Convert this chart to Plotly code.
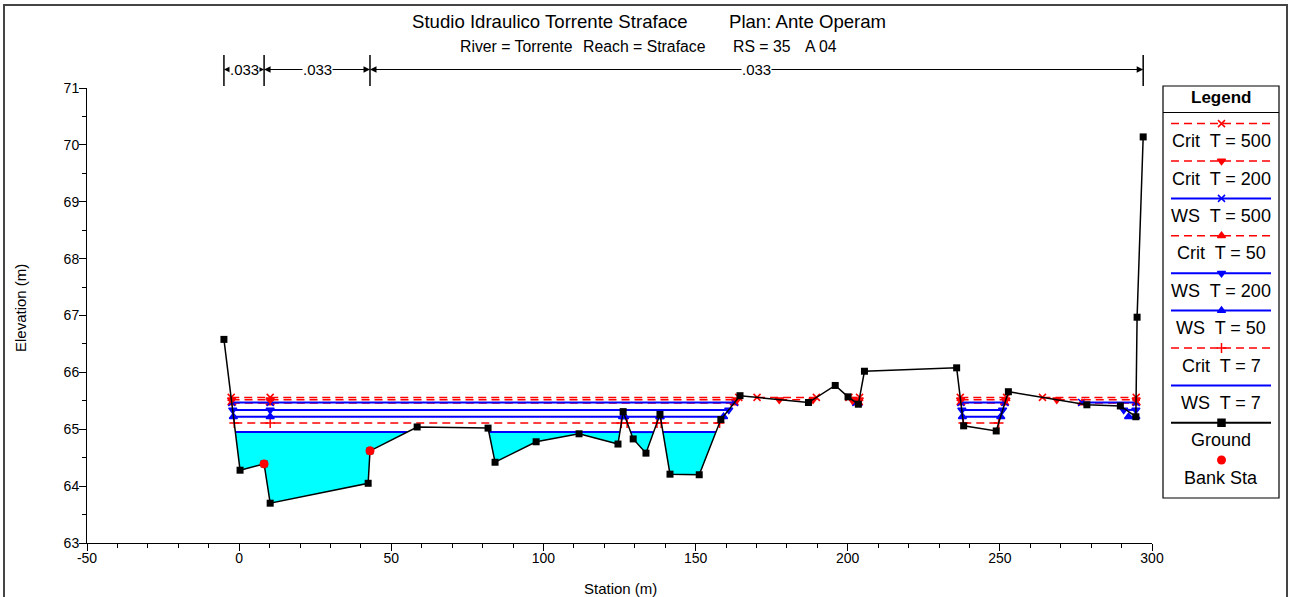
import plotly.graph_objects as go

# ground profile (station, elevation)
ground_x = [-5.0, 0.3, 8.2, 10.2, 42.4, 43.0, 58.5, 81.8, 84.1, 97.6, 111.7, 124.5,
            126.2, 129.5, 133.7, 138.3, 141.6, 151.2, 158.3, 164.6, 187.1, 195.9,
            200.1, 203.5, 205.5, 235.8, 238.1, 248.8, 252.8, 278.6, 289.6, 294.7,
            295.1, 297.1]
ground_y = [66.58, 64.28, 64.39, 63.70, 64.05, 64.62, 65.04, 65.02, 64.42, 64.78,
            64.92, 64.74, 65.31, 64.83, 64.58, 65.26, 64.21, 64.20, 65.17, 65.59,
            65.47, 65.77, 65.57, 65.44, 66.02, 66.08, 65.06, 64.97, 65.66, 65.43,
            65.41, 65.22, 66.97, 70.14]

bank_x = [8.2, 43.0]
bank_y = [64.39, 64.62]

# manning n breaks
n_breaks = [-5.0, 8.2, 43.0, 297.1]
n_values = [".033", ".033", ".033"]

# axis ticks
x_ticks = [-50, 0, 50, 100, 150, 200, 250, 300]
y_ticks = [63, 64, 65, 66, 67, 68, 69, 70, 71]

# water surface / critical elevations and the wet stretches (from the picture)
crit500_el = 65.56
crit500_seg = [(-2.6, 164.2), (170.2, 189.7), (200.4, 203.9), (237.0, 252.2), (264.0, 294.8)]
crit200_el = 65.52
crit200_seg = [(-2.5, 163.6), (177.5, 188.6), (201.4, 203.8), (237.1, 252.0), (268.7, 294.8)]
ws500_el = 65.47
ws500_seg = [(-2.4, 162.8), (202.7, 203.6), (237.2, 251.7), (276.9, 294.8)]
crit50_el = 65.46
crit50_seg = [(-2.4, 162.7), (202.8, 203.6), (237.2, 251.6), (277.0, 294.8)]
ws200_el = 65.34
ws200_seg = [(-2.1, 160.9), (237.5, 250.9), (290.7, 294.7)]
ws50_el = 65.22
ws50_seg = [(-1.9, 126.0), (126.7, 138.2), (138.4, 159.2), (237.7, 250.3), (292.3, 294.7)]
crit7_el = 65.11
crit7_seg = [(-1.6, 125.6), (127.5, 137.3), (138.7, 157.9), (238.0, 249.6)]
ws7_el = 64.95
ws7_seg = [(-1.2, 55.2), (82.1, 125.1), (128.7, 136.2), (139.3, 156.7)]

extra_marker_sta = [10.2]

RED = "#FF0000"
BLUE = "#0000FF"
CYAN = "#00FFFF"
FONT = "Liberation Sans, Arial, sans-serif"

# name, elevation, segments, color, dash, symbol (legend order)
profiles = [
    ("Crit  T = 500", crit500_el, crit500_seg, RED, "8px,5px", "x-thin-open"),
    ("Crit  T = 200", crit200_el, crit200_seg, RED, "8px,5px", "triangle-down"),
    ("WS  T = 500", ws500_el, ws500_seg, BLUE, "solid", "x-thin-open"),
    ("Crit  T = 50", crit50_el, crit50_seg, RED, "8px,5px", "triangle-up"),
    ("WS  T = 200", ws200_el, ws200_seg, BLUE, "solid", "triangle-down"),
    ("WS  T = 50", ws50_el, ws50_seg, BLUE, "solid", "triangle-up"),
    ("Crit  T = 7", crit7_el, crit7_seg, RED, "8px,5px", "cross-thin-open"),
    ("WS  T = 7", ws7_el, ws7_seg, BLUE, "solid", None),
]

W, H = 1289, 597


def px(x):
    return x / W


def py(y):
    return 1 - y / H


def label(x, y, text, size, **kw):
    d = dict(x=px(x), y=py(y), xref="paper", yref="paper", text=text, showarrow=False,
             xanchor="center", yanchor="middle", font=dict(size=size, color="black", family=FONT))
    d.update(kw)
    return d


fig = go.Figure()

# cyan fill below WS T = 7
for x0, x1 in ws7_seg:
    fx = [x0] + [gx for gx in ground_x if x0 < gx < x1] + [x1]
    fy = [ws7_el] + [gy for gx, gy in zip(ground_x, ground_y) if x0 < gx < x1] + [ws7_el]
    fig.add_trace(go.Scatter(x=fx, y=fy, mode="lines", fill="toself", fillcolor=CYAN,
                             line=dict(width=0), hoverinfo="skip", showlegend=False))

# profile lines, drawn from lowest to highest
for name, el, segs, color, dash, symbol in reversed(profiles):
    lx, ly = [], []
    for x0, x1 in segs:
        lx += [x0, x1, None]
        ly += [el, el, None]
    width = 1.5 if color == RED else 2
    fig.add_trace(go.Scatter(x=lx, y=ly, mode="lines", line=dict(color=color, width=width, dash=dash),
                             name=name, showlegend=False))
    if symbol:
        mx = [s for seg in segs for s in seg]
        mx += [s for s in extra_marker_sta if segs[0][0] < s < segs[0][1]]
        fig.add_trace(go.Scatter(x=mx, y=[el] * len(mx), mode="markers",
                                 marker=dict(symbol=symbol, color=color, size=7,
                                             line=dict(color=color, width=1.5)),
                                 showlegend=False))

fig.add_trace(go.Scatter(x=ground_x, y=ground_y, mode="lines+markers", name="Ground",
                         line=dict(color="black", width=1.5),
                         marker=dict(symbol="square", color="black", size=7), showlegend=False))
fig.add_trace(go.Scatter(x=bank_x, y=bank_y, mode="markers", name="Bank Sta",
                         marker=dict(symbol="circle", color=RED, size=9), showlegend=False))

# custom legend on its own axes (pixel-like coordinates)
LX0, LX1, LY0, LY1 = 1163, 1279, 86, 498
lmid = (LX0 + LX1) / 2
leg_items = [p[0] for p in profiles] + ["Ground"]
ann = []
for i, name in enumerate(leg_items):
    ly = 123.6 + i * 37.4
    if name == "Ground":
        color, dash, symbol = "black", "solid", "square"
    else:
        _, _, _, color, dash, symbol = profiles[i]
    width = 1.5 if color == RED else 2
    fig.add_trace(go.Scatter(x=[1171, 1271], y=[ly, ly], mode="lines", xaxis="x2", yaxis="y2",
                             line=dict(color=color, width=width, dash=dash), showlegend=False))
    if symbol:
        fig.add_trace(go.Scatter(x=[lmid + 0.5], y=[ly], mode="markers", xaxis="x2", yaxis="y2",
                                 marker=dict(symbol=symbol, color=color, size=7,
                                             line=dict(color=color, width=1.5)),
                                 showlegend=False))
    ann.append(label(lmid, ly + 17.5, name, 18))
fig.add_trace(go.Scatter(x=[lmid + 0.5], y=[460], mode="markers", xaxis="x2", yaxis="y2",
                         marker=dict(symbol="circle", color=RED, size=9), showlegend=False))
ann.append(label(lmid, 478, "Bank Sta", 18))
ann.append(label(lmid, 97.5, "<b>Legend</b>", 17))

# titles
ann += [
    label(410, 22, "Studio Idraulico Torrente Straface", 18.6, xanchor="left"),
    label(727, 22, "Plan: Ante Operam", 18.6, xanchor="left"),
    label(458, 46, "River = Torrente", 15.8, xanchor="left"),
    label(581, 46, "Reach = Straface", 15.8, xanchor="left"),
    label(731, 46, "RS = 35", 15.8, xanchor="left"),
    label(803, 46, "A 04", 15.8, xanchor="left"),
    label(20, 308, "Elevation (m)", 15, textangle=-90),
    label(620, 588, "Station (m)", 15),
]

# manning n bar above the plot
shapes = []
bar_y = py(69.5)
for b in n_breaks:
    shapes.append(dict(type="line", xref="x", yref="paper", x0=b, x1=b, y0=py(86), y1=py(55),
                       line=dict(color="black", width=1.5)))
for (a, b), nv in zip(zip(n_breaks[:-1], n_breaks[1:]), n_values):
    mid = (a + b) / 2
    for end in (a, b):
        ann.append(dict(x=end, y=bar_y, xref="x", yref="paper", ax=mid, ay=0, axref="x",
                        ayref="pixel", text="", showarrow=True, arrowhead=2, arrowsize=1.3,
                        arrowwidth=1, arrowcolor="black", standoff=0))
    ann.append(dict(x=mid, y=bar_y, xref="x", yref="paper", text=nv, showarrow=False,
                    xanchor="center", yanchor="middle", bgcolor="white", borderpad=0,
                    font=dict(size=15, color="black", family=FONT)))

# legend box and outer frame
shapes += [
    dict(type="rect", xref="paper", yref="paper", x0=px(LX0), x1=px(LX1), y0=py(LY1), y1=py(LY0),
         line=dict(color="black", width=1.2)),
    dict(type="line", xref="paper", yref="paper", x0=px(LX0), x1=px(LX1), y0=py(112.5), y1=py(112.5),
         line=dict(color="black", width=1.2)),
    dict(type="rect", xref="paper", yref="paper", x0=px(4), x1=px(1287), y0=py(605), y1=py(5),
         line=dict(color="#444444", width=2)),
]

fig.update_layout(
    width=W, height=H,
    margin=dict(l=0, r=0, t=0, b=0, pad=0),
    paper_bgcolor="white", plot_bgcolor="white",
    showlegend=False,
    font=dict(family=FONT, color="black", size=14),
    annotations=ann,
    shapes=shapes,
    xaxis=dict(domain=[px(87), px(1152)], range=[-50, 300],
               tickmode="array", tickvals=x_ticks, ticktext=[str(t) for t in x_ticks],
               showline=True, linecolor="black", linewidth=1, ticks="outside", ticklen=7,
               tickcolor="black", showgrid=False, zeroline=False, automargin=False,
               tickfont=dict(size=14), ticklabelstandoff=-5,
               minor=dict(tickmode="linear", tick0=-50, dtick=10, ticks="outside", ticklen=4,
                          tickcolor="black", showgrid=False)),
    yaxis=dict(domain=[py(543), py(88)], range=[63, 71],
               tickmode="array", tickvals=y_ticks, ticktext=[str(t) for t in y_ticks],
               showline=True, linecolor="black", linewidth=1, ticks="outside", ticklen=7,
               tickcolor="black", showgrid=False, zeroline=False, automargin=False,
               tickfont=dict(size=14), ticklabelstandoff=-3,
               minor=dict(tickmode="linear", tick0=63, dtick=0.5, ticks="outside", ticklen=4,
                          tickcolor="black", showgrid=False)),
    xaxis2=dict(domain=[px(LX0), px(LX1)], range=[LX0, LX1], visible=False, fixedrange=True),
    yaxis2=dict(domain=[py(LY1), py(LY0)], range=[LY1, LY0], visible=False, fixedrange=True,
                anchor="x2"),
)

fig.write_html("out.html", config={"displayModeBar": False},
               post_script="document.body.style.margin='0';document.body.style.overflow='hidden';")
